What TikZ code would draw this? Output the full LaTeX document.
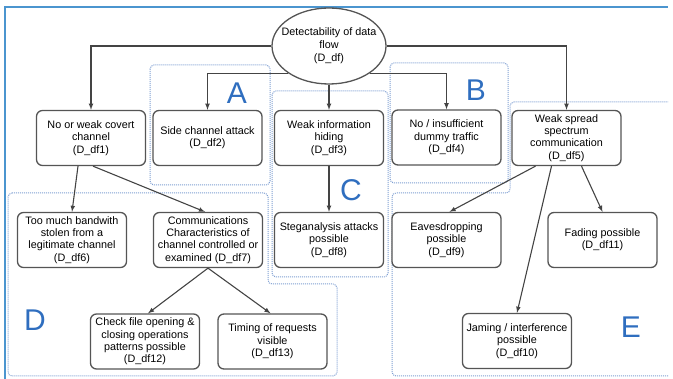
\documentclass[tikz,border=0pt]{standalone}
\usepackage{fontspec}
\setmainfont{Liberation Sans}
\usetikzlibrary{shapes.geometric}
\definecolor{boxgray}{HTML}{555555}
\definecolor{arrowgray}{HTML}{444444}
\definecolor{zoneblue}{HTML}{7F9FD2}
\definecolor{letterblue}{HTML}{2F6EBF}
\definecolor{framebl}{HTML}{4B95CF}
\begin{document}
\begin{tikzpicture}[x=1pt,y=-1pt,>=latex,
  box/.style={draw=boxgray,line width=1.3pt,rounded corners=6pt,fill=white,minimum width=109pt,minimum height=55pt,align=center,inner sep=1pt,font=\fontsize{10.8}{12.4}\selectfont},
  link/.style={->,draw=arrowgray,line width=1.1pt},
  zone/.style={draw=zoneblue,densely dotted,line width=1pt,rounded corners=4pt},
  zonename/.style={text=letterblue,font=\fontsize{30}{30}\selectfont}]
\useasboundingbox (0,0) rectangle (673,379);
\draw[framebl,line width=1.8pt] (5,379) -- (5,7) -- (668,7);
\draw[zone] (150,65) rectangle (270,185);
\draw[zone] (390,63) rectangle (508,183);
\draw[zone] (272,91) rectangle (388,277);
\draw[zone] (8,193) -- (268,193) -- (268,284) -- (337,284) -- (337,376) -- (8,376) -- cycle;
\draw[zone] (668,376) -- (392,376) -- (392,193) -- (510,193) -- (510,102) -- (668,102);
\node[zonename] (la) at (237,93) {A};
\node[zonename] (lb) at (476,90) {B};
\node[zonename] (lc) at (351,190) {C};
\node[zonename] (ld) at (35,320) {D};
\node[zonename] (le) at (631,327) {E};
\node[ellipse,draw=boxgray,line width=1.3pt,fill=white,minimum width=114pt,minimum height=76pt,inner sep=0pt] (df) at (329,46) {};
\node[align=center,font=\fontsize{10.8}{12.8}\selectfont] (dftext) at (df.center) {Detectability of data\\flow\\(D\_df)};
\node[box] (df1) at (91,138) {No or weak covert\\channel\\(D\_df1)};
\node[box] (df2) at (207.5,138) {Side channel attack\\(D\_df2)};
\node[box] (df3) at (329,138) {Weak information\\hiding\\(D\_df3)};
\node[box] (df4) at (446.5,137.5) {No / insufficient\\dummy traffic\\(D\_df4)};
\node[box] (df5) at (566.5,138) {Weak spread\\spectrum\\communication\\(D\_df5)};
\node[box] (df6) at (72,240) {Too much bandwith\\stolen from a\\legitimate channel\\(D\_df6)};
\node[box] (df7) at (208,240) {Communications\\Characteristics of\\channel controlled or\\examined (D\_df7)};
\node[box] (df8) at (329,240) {Steganalysis attacks\\possible\\(D\_df8)};
\node[box] (df9) at (446.5,240) {Eavesdropping\\possible\\(D\_df9)};
\node[box] (df11) at (602.5,240) {Fading possible\\(D\_df11)};
\node[box] (df12) at (145,341.5) {Check file opening \&\\closing operations\\patterns possible\\(D\_df12)};
\node[box] (df13) at (272.5,341.5) {Timing of requests\\visible\\(D\_df13)};
\node[box] (df10) at (517,341) {Jaming / interference\\possible\\(D\_df10)};
\draw[link] (df.west) -| (df1.north);
\draw[link] (df.214) -| (df2.north);
\draw[link] (df.south) -- (df3.north);
\draw[link] (df.-34) -| (df4.north);
\draw[link] (df.east) -| (df5.north);
\draw[link] ([xshift=-13pt]df1.south) -- (df6.north);
\draw[link] ([xshift=2pt]df1.south) -- ([xshift=-3pt]df7.north);
\draw[link] (df3.south) -- (df8.north);
\draw[link] ([xshift=-31pt]df5.south) -- ([xshift=3pt]df9.north);
\draw[link] ([xshift=-15pt]df5.south) -- (df10.north);
\draw[link] ([xshift=15pt]df5.south) -- (df11.north);
\draw[link] (df7.south) -- ([xshift=3pt]df12.north);
\draw[link] (df7.south) -- ([xshift=-2pt]df13.north);
\end{tikzpicture}
\end{document}
